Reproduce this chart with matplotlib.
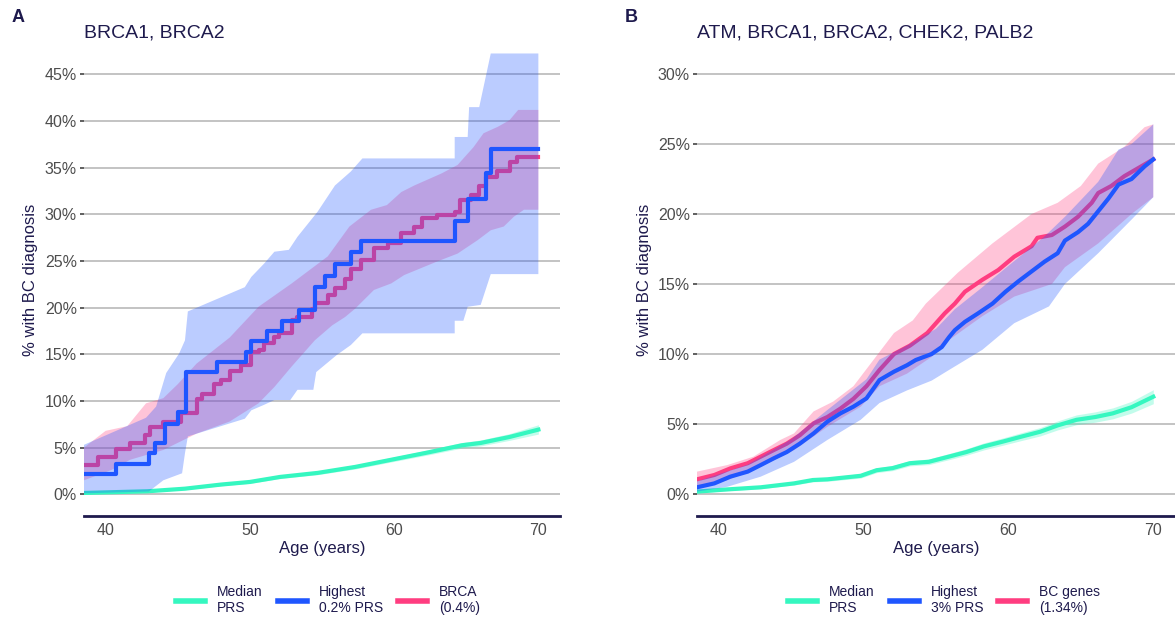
import matplotlib
matplotlib.use("Agg")
import matplotlib.pyplot as plt
from matplotlib.lines import Line2D

plt.rcParams['font.family'] = ['Liberation Sans', 'DejaVu Sans']

NAVY = '#1e1a4d'
GREY_TXT = '#4d4d4d'
C_MED = '#35F7C0'
C_HIGH = '#1F56FF'
C_GENE = '#FF3D80'

# ---- panel A: BRCA1, BRCA2 ----
a_med_age = [38.5, 42.9, 45.5, 48.0, 50.0, 52.1, 54.7, 57.3, 59.8, 62.4, 64.7, 66.0, 68.0, 70.0]
a_med = [0.14, 0.32, 0.6, 1.04, 1.32, 1.86, 2.29, 2.93, 3.7, 4.5, 5.25, 5.5, 6.14, 6.93]
a_med_hi = [0.22, 0.41, 0.71, 1.17, 1.47, 2.03, 2.48, 3.15, 3.94, 4.77, 5.55, 5.82, 6.5, 7.45]
a_med_lo = [0.06, 0.23, 0.49, 0.91, 1.17, 1.69, 2.1, 2.71, 3.46, 4.23, 4.95, 5.18, 5.78, 6.45]

a_high_age = [38.5, 40.7, 43.0, 43.4, 44.1, 45.0, 45.6, 47.7, 49.7, 50.1, 51.2, 52.2, 53.4,
              54.5, 55.2, 55.9, 57.0, 57.7, 64.2, 65.1, 66.4, 66.7, 70.0]
a_high = [2.2, 3.2, 4.4, 5.5, 7.5, 8.8, 13.1, 14.2, 15.3, 16.4, 17.5, 18.6, 19.8,
          22.2, 23.4, 24.7, 26.0, 27.2, 29.3, 31.7, 34.4, 37.0, 37.0]

a_high_up_age = [38.5, 42.8, 43.5, 44.2, 45.1, 45.5, 45.7, 49.65, 50.1, 51.0, 51.7, 52.7, 53.3,
                 54.7, 55.9, 57.0, 57.8, 64.2, 64.2, 65.1, 65.2, 65.9, 66.7, 70.0]
a_high_up = [5.3, 8.2, 9.4, 13.0, 15.1, 16.5, 19.6, 22.2, 23.3, 24.75, 26.0, 26.2, 27.6,
             30.3, 33.1, 34.6, 36.0, 36.0, 38.3, 38.3, 41.5, 41.5, 47.25, 47.25]
a_high_lo_age = [38.5, 43.0, 44.0, 45.3, 45.5, 45.7, 49.65, 50.1, 51.0, 51.7, 52.8, 53.3, 54.4,
                 54.6, 56.0, 57.0, 57.8, 64.2, 64.2, 64.8, 65.1, 66.0, 66.7, 70.0]
a_high_lo = [0.1, 0.3, 1.5, 2.25, 4.4, 6.2, 8.1, 9.0, 9.6, 10.1, 10.1, 11.2, 11.2,
             13.1, 14.9, 16.0, 17.25, 17.25, 18.6, 18.6, 20.1, 20.3, 23.6, 23.6]

a_gene_age = [38.5, 39.5, 40.7, 41.7, 42.7, 43.1, 44.0, 45.2, 46.3, 46.7, 47.5, 48.0, 48.6, 49.4,
              50.1, 50.6, 51.0, 51.7, 52.0, 52.9, 53.3, 54.3, 54.5, 55.4, 55.9, 56.6, 57.0, 57.7,
              58.6, 59.6, 60.5, 61.4, 61.9, 63.0, 64.2, 64.6, 65.3, 65.9, 66.4, 67.1, 68.0, 68.5, 70.0]
a_gene = [3.1, 4.0, 4.9, 5.5, 6.4, 7.2, 7.8, 8.7, 10.2, 10.8, 11.8, 12.3, 13.2, 13.9,
          15.3, 15.5, 16.2, 16.9, 17.3, 18.7, 19.0, 19.9, 20.5, 21.4, 22.1, 23.1, 24.2, 25.1,
          26.4, 26.9, 28.0, 28.7, 29.6, 29.9, 30.3, 31.5, 32.1, 33.0, 34.0, 34.6, 35.6, 36.2, 36.2]

a_gene_up_age = [38.5, 40.0, 41.5, 42.8, 44.0, 45.0, 46.3, 48.6, 50.6, 52.9, 55.4, 56.9, 58.4,
                 59.5, 60.5, 61.4, 63.3, 64.4, 65.5, 66.2, 67.2, 68.0, 68.6, 70.0]
a_gene_up = [5.0, 6.8, 7.3, 9.75, 10.3, 11.8, 14.0, 16.8, 20.1, 22.6, 25.5, 28.7, 30.5,
             31.0, 32.4, 33.1, 34.4, 35.3, 37.2, 38.7, 39.4, 40.1, 41.2, 41.2]
a_gene_lo_age = [38.5, 40.4, 41.7, 44.0, 46.3, 48.6, 50.6, 51.7, 52.9, 54.5, 55.7, 56.6, 57.3,
                 58.6, 59.8, 60.7, 62.9, 64.4, 65.8, 66.7, 67.6, 68.3, 69.0, 70.0]
a_gene_lo = [1.5, 2.6, 3.7, 4.75, 6.5, 7.8, 9.75, 11.5, 13.7, 16.5, 18.1, 19.0, 19.9,
             21.9, 22.6, 23.5, 24.9, 25.8, 27.25, 28.3, 28.7, 29.75, 30.5, 30.5]

# ---- panel B: ATM, BRCA1, BRCA2, CHEK2, PALB2 ----
b_med_age = [38.5, 40.6, 42.9, 45.2, 46.5, 47.5, 49.8, 50.9, 52.0, 53.2, 54.5, 56.0, 57.1,
             58.3, 59.6, 60.9, 62.2, 63.4, 64.7, 66.0, 67.2, 68.5, 70.0]
b_med = [0.17, 0.33, 0.48, 0.76, 1.0, 1.05, 1.3, 1.7, 1.85, 2.2, 2.3, 2.7, 3.0,
         3.4, 3.74, 4.1, 4.45, 4.9, 5.3, 5.5, 5.76, 6.2, 6.95]
b_med_hi = [0.25, 0.42, 0.58, 0.88, 1.13, 1.19, 1.46, 1.87, 2.03, 2.39, 2.5, 2.92, 3.23,
            3.65, 4.0, 4.38, 4.75, 5.22, 5.65, 5.87, 6.15, 6.62, 7.45]
b_med_lo = [0.09, 0.24, 0.38, 0.64, 0.87, 0.91, 1.14, 1.53, 1.67, 2.01, 2.1, 2.48, 2.77,
            3.15, 3.48, 3.82, 4.15, 4.58, 4.95, 5.13, 5.37, 5.78, 6.45]

b_high_age = [38.5, 39.7, 40.8, 42.0, 42.9, 43.8, 44.7, 45.6, 46.55, 47.5, 48.4, 49.3, 50.2,
              51.1, 52.1, 53.0, 53.6, 54.7, 55.4, 55.9, 56.3, 57.0, 57.9, 58.9, 59.8, 60.7,
              61.6, 62.5, 63.4, 63.9, 64.8, 65.5, 66.2, 66.9, 67.6, 68.5, 69.4, 70.0]
b_high = [0.48, 0.76, 1.24, 1.6, 2.07, 2.55, 3.0, 3.6, 4.33, 5.17, 5.76, 6.24, 6.83,
          8.14, 8.74, 9.2, 9.57, 10.0, 10.5, 11.2, 11.7, 12.3, 12.9, 13.6, 14.45, 15.2,
          15.9, 16.6, 17.2, 18.1, 18.7, 19.3, 20.2, 21.1, 22.1, 22.5, 23.4, 23.9]
b_high_up_age = [38.5, 42.0, 45.0, 47.5, 50.2, 51.1, 53.0, 55.0, 56.3, 58.0, 60.0, 62.5,
                 64.0, 66.2, 67.6, 68.5, 70.0]
b_high_up = [0.9, 2.1, 3.9, 6.0, 8.2, 9.6, 10.6, 11.8, 13.2, 14.6, 16.3, 18.4,
             19.9, 22.3, 24.6, 25.0, 26.4]
b_high_lo_age = [38.5, 40.6, 42.9, 45.2, 47.5, 49.8, 51.1, 53.0, 54.7, 55.9, 58.2, 60.4,
                 62.8, 63.9, 66.2, 68.5, 70.0]
b_high_lo = [0.17, 0.52, 1.24, 2.3, 3.86, 5.3, 6.5, 7.4, 8.1, 8.86, 10.3, 12.2,
             13.4, 15.0, 17.2, 19.6, 21.2]

b_gene_age = [38.5, 39.7, 40.8, 42.0, 42.9, 43.8, 44.7, 45.6, 46.55, 47.5, 48.4, 49.3, 50.2,
              51.1, 52.1, 53.2, 54.4, 55.6, 56.3, 57.0, 58.2, 59.3, 60.4, 61.6, 62.0, 63.0,
              63.9, 64.8, 65.75, 66.2, 67.1, 68.0, 69.0, 70.0]
b_gene = [1.05, 1.36, 1.83, 2.2, 2.67, 3.14, 3.6, 4.2, 5.05, 5.5, 6.1, 6.8, 7.7,
          8.86, 10.0, 10.6, 11.5, 12.9, 13.6, 14.45, 15.3, 16.0, 16.95, 17.7, 18.3, 18.5,
          19.1, 19.8, 20.8, 21.5, 22.0, 22.7, 23.3, 23.9]
b_gene_up_age = [38.5, 40.6, 42.4, 44.25, 45.2, 46.55, 47.9, 49.3, 50.7, 52.1, 53.4, 54.3,
                 56.5, 58.9, 61.6, 63.4, 65.0, 66.2, 68.0, 69.4, 70.0]
b_gene_up = [1.6, 2.07, 2.67, 3.86, 4.33, 5.9, 6.6, 7.7, 9.6, 11.5, 12.4, 13.6,
             15.8, 17.9, 20.0, 20.8, 22.0, 23.6, 24.8, 26.2, 26.4]
b_gene_lo_age = [38.5, 40.5, 42.9, 45.2, 47.5, 49.8, 51.1, 53.0, 54.7, 55.9, 58.2, 60.4,
                 63.0, 63.9, 66.2, 68.5, 70.0]
b_gene_lo = [0.52, 0.95, 1.95, 3.14, 4.8, 6.24, 7.7, 8.6, 9.8, 11.0, 12.7, 14.1,
             15.0, 16.2, 17.9, 20.0, 21.2]

panels = [
    dict(letter='A', title='BRCA1, BRCA2', left=84, width=476,
         ylim=(-2.33, 48.16), yticks=[0, 5, 10, 15, 20, 25, 30, 35, 40, 45],
         med=(a_med_age, a_med, a_med_lo, a_med_hi),
         gene=(a_gene_age, a_gene, a_gene_lo_age, a_gene_lo, a_gene_up_age, a_gene_up, 'steps-post'),
         high=(a_high_age, a_high, a_high_lo_age, a_high_lo, a_high_up_age, a_high_up, 'steps-post'),
         labels=['Median\nPRS', 'Highest\n0.2% PRS', 'BRCA\n(0.4%)'], leg_x=328),
    dict(letter='B', title='ATM, BRCA1, BRCA2, CHEK2, PALB2', left=697, width=478,
         ylim=(-1.57, 32.07), yticks=[0, 5, 10, 15, 20, 25, 30],
         med=(b_med_age, b_med, b_med_lo, b_med_hi),
         gene=(b_gene_age, b_gene, b_gene_lo_age, b_gene_lo, b_gene_up_age, b_gene_up, 'default'),
         high=(b_high_age, b_high, b_high_lo_age, b_high_lo, b_high_up_age, b_high_up, 'default'),
         labels=['Median\nPRS', 'Highest\n3% PRS', 'BC genes\n(1.34%)'], leg_x=944),
]

W, H = 1175, 619
fig = plt.figure(figsize=(W / 100, H / 100), dpi=100)


def band(ax, lo_x, lo_y, up_x, up_y, color, z):
    # polygon: upper edge left->right, lower edge right->left
    xs = list(up_x) + list(lo_x)[::-1]
    ys = list(up_y) + list(lo_y)[::-1]
    ax.fill(xs, ys, color=color, alpha=0.3, lw=0, zorder=z)


for p in panels:
    ax = fig.add_axes([p['left'] / W, (H - 516) / H, p['width'] / W, (516 - 45) / H])
    ax.set_xlim(38.5, 71.5)
    ax.set_ylim(*p['ylim'])

    ax.set_yticks(p['yticks'])
    ax.set_yticklabels([f'{v}%' for v in p['yticks']])
    ax.set_xticks([40, 50, 60, 70])
    ax.grid(axis='y', color='#bebebe', lw=1.3, zorder=0)
    ax.set_axisbelow(True)
    for s in ['top', 'right', 'left']:
        ax.spines[s].set_visible(False)
    ax.spines['bottom'].set_color(NAVY)
    ax.spines['bottom'].set_linewidth(2)
    ax.tick_params(axis='y', length=3, width=1.1, color='#333333', pad=2,
                   labelsize=11.5, labelcolor=GREY_TXT)
    ax.tick_params(axis='x', length=0, pad=5, labelsize=11.5, labelcolor=GREY_TXT)

    # each group: ribbon, then its line; later groups sit on top
    mx, my, mlo, mhi = p['med']
    ax.fill_between(mx, mlo, mhi, color=C_MED, alpha=0.3, lw=0, zorder=2)
    ax.plot(mx, my, color=C_MED, lw=3, zorder=3)

    gx, gy, glx, gly, gux, guy, ds = p['gene']
    band(ax, glx, gly, gux, guy, C_GENE, 4)
    ax.plot(gx, gy, color=C_GENE, lw=3, drawstyle=ds, zorder=5)

    hx, hy, hlx, hly, hux, huy, ds = p['high']
    band(ax, hlx, hly, hux, huy, C_HIGH, 6)
    ax.plot(hx, hy, color=C_HIGH, lw=3, drawstyle=ds, zorder=7)

    cx = p['left'] + p['width'] / 2
    fig.text((p['left'] - 72) / W, 1 - 18 / H, p['letter'], fontsize=13,
             fontweight='bold', color=NAVY, ha='left', va='center')
    fig.text(p['left'] / W, 1 - 33 / H, p['title'], fontsize=14, color=NAVY,
             ha='left', va='center')
    fig.text(cx / W, 1 - 548 / H, 'Age (years)', fontsize=12, color=NAVY,
             ha='center', va='center')
    fig.text((p['left'] - 53) / W, 1 - 280 / H, '% with BC diagnosis', fontsize=12,
             color=NAVY, rotation=90, ha='center', va='center')

    handles = [Line2D([], [], color=c, lw=4) for c in (C_MED, C_HIGH, C_GENE)]
    fig.legend(handles, p['labels'], loc='center', bbox_to_anchor=(p['leg_x'] / W, 19 / H),
               ncol=3, frameon=False, fontsize=10, labelcolor=NAVY,
               handlelength=2.1, handletextpad=0.85, columnspacing=1.1, borderpad=0)

fig.savefig('out.png', dpi=100)
